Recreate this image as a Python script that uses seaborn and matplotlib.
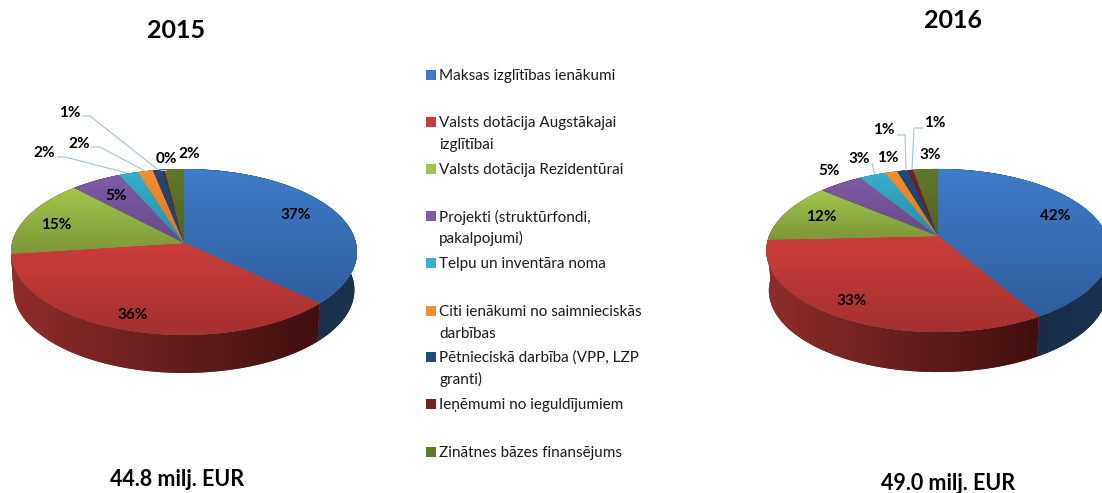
import numpy as np
import matplotlib
matplotlib.use("Agg")
import matplotlib.pyplot as plt
from matplotlib.colors import to_rgb
from matplotlib.patches import PathPatch
from matplotlib.path import Path
import seaborn as sns

categories = [
    "Maksas izglītības ienākumi",
    "Valsts dotācija Augstākajai\nizglītībai",
    "Valsts dotācija Rezidentūrai",
    "Projekti (struktūrfondi,\npakalpojumi)",
    "Telpu un inventāra noma",
    "Citi ienākumi no saimnieciskās\ndarbības",
    "Pētnieciskā darbība (VPP, LZP\ngranti)",
    "Ieņēmumi no ieguldījumiem",
    "Zinātnes bāzes finansējums",
]
values_2015 = [37.0, 36.0, 15.0, 5.3, 2.0, 1.6, 1.0, 0.2, 2.0]
values_2016 = [42.0, 33.0, 12.0, 5.0, 3.0, 1.4, 1.2, 0.6, 2.8]
title_2015, title_2016 = "2015", "2016"
total_2015, total_2016 = "44.8 milj. EUR", "49.0 milj. EUR"

top_light = ["#3e7cc9", "#cb3d3b", "#a2c64c", "#7f5ba6", "#35b0cd", "#f58e2c", "#1f4a7c", "#7c1f1e", "#5f7a26"]
top_dark = ["#2f5e9b", "#a43130", "#7d9638", "#654a86", "#2b8ba5", "#d57a22", "#1c4270", "#6a1a1a", "#4f6420"]
wall_left = ["#0f2540", "#8f2d2b", "#8f2d2b", "#4a3664", "#1f6a80", "#a05c1a", "#12294a", "#4a1010", "#3a4a18"]
wall_right = ["#1a3350", "#3f100f", "#8f2d2b", "#3a2a50", "#195668", "#804a15", "#0f2038", "#3a0c0c", "#2c3812"]

LEADER = "#9dc3e6"
FONT = ["Lato", "DejaVu Sans"]
WIDTH, HEIGHT = 1102, 493

sns.set_theme(style="white")
plt.rcParams["font.family"] = FONT

fig = plt.figure(figsize=(WIDTH / 100, HEIGHT / 100), dpi=100, facecolor="white")
ax = fig.add_axes([0, 0, 1, 1])


def gradient(c1, c2, horizontal):
    ramp = np.linspace(to_rgb(c1), to_rgb(c2), 64)
    return ramp[np.newaxis, :, :] if horizontal else ramp[:, np.newaxis, :]


def shaded(path, c1, c2, horizontal, z):
    patch = PathPatch(path, facecolor=c1 if horizontal else c2, edgecolor="none",
                      transform=ax.transData, zorder=z)
    ax.add_patch(patch)
    (x0, y0), (x1, y1) = path.get_extents().get_points()
    im = ax.imshow(gradient(c1, c2, horizontal), extent=(x0, x1, y1, y0), aspect="auto",
                   interpolation="bilinear", zorder=z + 0.1)
    im.set_clip_path(patch)


def draw_pie(values, cx, cy, R, b, k, depth):
    def project(xy):
        w = 1 + k * xy[:, 1]
        return np.column_stack([cx + R * xy[:, 0] / w, cy - b * xy[:, 1] / w])

    wedges, _ = ax.pie(values, startangle=90, counterclock=False, radius=1, center=(0, 0))
    faces = []
    for i, wedge in enumerate(wedges):
        t = np.radians(np.linspace(wedge.theta1, wedge.theta2, 80))
        rim = project(np.column_stack([np.cos(t), np.sin(t)]))
        lower = project(np.column_stack([np.cos(t), np.sin(t)]))
        lower[:, 0] = cx + (lower[:, 0] - cx) * 0.985
        lower[:, 1] += depth
        outline = np.vstack([rim, lower[::-1], rim[:1]])
        shaded(Path(outline, closed=True), wall_left[i], wall_right[i], True, 2 + i * 0.2)
        src = wedge.get_path()
        faces.append(Path(project(src.vertices), src.codes))
        wedge.remove()
    for i, path in enumerate(faces):
        shaded(path, top_light[i], top_dark[i], False, 5 + i * 0.2)


draw_pie(values_2015, 184, 243, 172, 82, 0.108, 38)
draw_pie(values_2016, 938, 236, 169, 79, 0.178, 40)


def pct_labels(values):
    total = sum(values)
    return [f"{round(v / total * 100)}%" for v in values]


label_pos_2015 = [(296, 215), (133, 315), (56, 225), (116, 196), (44, 153), (79, 144), (70, 113), (166, 159), (189, 154)]
label_pos_2016 = [(1055, 216), (852, 301), (821, 217), (829, 171), (859, 159), (888, 158), (884, 130), (935, 123), (930, 155)]
for vals, positions in ((values_2015, label_pos_2015), (values_2016, label_pos_2016)):
    for text, (x, y) in zip(pct_labels(vals), positions):
        ax.text(x, y, text, ha="center", va="center", fontsize=11, fontweight="bold",
                color="black", zorder=20)

leaders = [
    [(82, 116), (90, 116), (157, 169)],
    [(91, 147), (100, 147), (145, 171)],
    [(57, 157), (65, 157), (127, 173)],
    [(160, 170), (166, 170)],
    [(872, 163), (875, 175)],
    [(897, 135), (905, 135), (906, 171)],
    [(923, 128), (914, 128), (912, 170)],
]
for line in leaders:
    xs, ys = zip(*line)
    ax.plot(xs, ys, color=LEADER, lw=0.8, zorder=15, solid_capstyle="butt")

legend_rows = [75, 122, 169, 216, 263, 311, 357, 404, 452]
for i, (name, y) in enumerate(zip(categories, legend_rows)):
    ax.scatter([430.5], [y], marker="s", s=60, color=top_light[i], linewidths=0, zorder=10)
    for j, part in enumerate(name.split("\n")):
        ax.text(439, y + 1 + j * 21.5, part, ha="left", va="center", fontsize=11,
                color="#1a1a1a", zorder=10)

ax.text(176, 30, title_2015, ha="center", va="center", fontsize=18, fontweight="bold", color="black")
ax.text(953, 21, title_2016, ha="center", va="center", fontsize=18, fontweight="bold", color="black")
ax.text(177, 480, total_2015, ha="center", va="center", fontsize=15.5, fontweight="bold", color="black")
ax.text(948, 483, total_2016, ha="center", va="center", fontsize=15.5, fontweight="bold", color="black")

ax.set_aspect("auto")
ax.set_xlim(0, WIDTH)
ax.set_ylim(HEIGHT, 0)
ax.axis("off")
fig.savefig("out.png", dpi=100, facecolor="white")
